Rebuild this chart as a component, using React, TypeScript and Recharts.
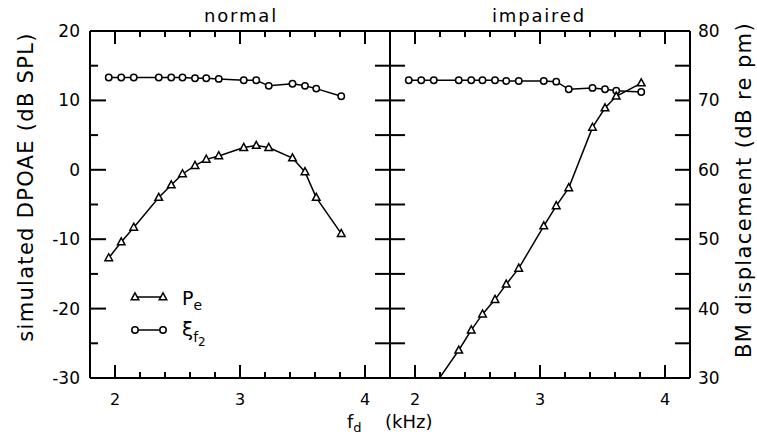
import React from 'react';
import { LineChart, Line, XAxis, YAxis, Legend } from 'recharts';

// f_d values (kHz) shared by both panels
const freqKHz = [1.95, 2.05, 2.15, 2.35, 2.45, 2.54, 2.64, 2.73, 2.83, 3.03, 3.13, 3.23, 3.42, 3.52, 3.61, 3.81];
// normal panel
const normalPe = [-12.7, -10.4, -8.3, -4.0, -2.2, -0.6, 0.6, 1.5, 2.0, 3.2, 3.5, 3.2, 1.7, -0.3, -4.0, -9.2];
const normalXi = [73.3, 73.3, 73.3, 73.3, 73.3, 73.3, 73.2, 73.2, 73.1, 72.9, 72.9, 72.1, 72.4, 72.1, 71.7, 70.6];
// impaired panel
const impairedPe = [null, null, -31.2, -26.0, -23.1, -20.8, -18.7, -16.5, -14.2, -8.1, -5.2, -2.6, 6.1, 8.9, 10.6, 12.5];
const impairedXi = [72.9, 72.9, 72.9, 72.9, 72.9, 72.9, 72.9, 72.8, 72.8, 72.8, 72.7, 71.6, 71.8, 71.6, 71.4, 71.2];

const xTicks = [2, 2.2, 2.4, 2.6, 2.8, 3, 3.2, 3.4, 3.6, 3.8, 4];
const dpoaeTicks = [-30, -25, -20, -15, -10, -5, 0, 5, 10, 15, 20];
const bmTicks = [30, 35, 40, 45, 50, 55, 60, 65, 70, 75, 80];
const panelTitles = ['normal', 'impaired'];
const leftTitle = 'simulated DPOAE (dB SPL)';
const rightTitle = 'BM displacement (dB re pm)';

const FONT = '"DejaVu Sans", sans-serif';
const INK = '#000';

const normalData = freqKHz.map((f, i) => ({ f, pe: normalPe[i], xi: normalXi[i] }));
const impairedData = freqKHz.map((f, i) => ({ f, pe: impairedPe[i], xi: impairedXi[i] }));

const isMajor = (v: number, step: number) => Math.abs(v / step - Math.round(v / step)) < 1e-6;

const makeXTick = (side: 'top' | 'bottom', labels: boolean) => (props: any) => {
  const { x, y, payload } = props;
  const v = payload.value as number;
  const major = isMajor(v, 1);
  const len = major ? 13 : 6;
  const dir = side === 'bottom' ? -1 : 1;
  return (
    <g>
      <line x1={x} y1={y} x2={x} y2={y + dir * len} stroke={INK} strokeWidth={2} />
      {labels && major ? (
        <text x={x} y={y + 27} textAnchor="middle" fontSize={16} fontFamily={FONT} fill={INK}>
          {String(v)}
        </text>
      ) : null}
    </g>
  );
};

const makeYTick = (side: 'left' | 'right', labels: boolean, varied: boolean) => (props: any) => {
  const { x, y, payload } = props;
  const v = payload.value as number;
  const major = isMajor(v, 10);
  const len = varied ? (major ? 16 : 8) : 15;
  const dir = side === 'left' ? 1 : -1;
  return (
    <g>
      <line x1={x} y1={y} x2={x + dir * len} y2={y} stroke={INK} strokeWidth={2} />
      {labels && major ? (
        <text
          x={side === 'left' ? x - 10 : x + 8}
          y={y + 6}
          textAnchor={side === 'left' ? 'end' : 'start'}
          fontSize={17}
          fontFamily={FONT}
          fill={INK}
        >
          {String(v)}
        </text>
      ) : null}
    </g>
  );
};

const triPath = (cx: number, cy: number) => {
  const s = 3.8;
  return `M${cx},${cy - 4.2} L${cx + s},${cy + 2.8} L${cx - s},${cy + 2.8} Z`;
};

const TriangleDot = (props: any) => {
  const { cx, cy, value, index } = props;
  if (cx == null || cy == null || value == null) return <g key={`t${index}`} />;
  return <path key={`t${index}`} d={triPath(cx, cy)} fill="#fff" stroke={INK} strokeWidth={1.5} />;
};

const CircleDot = (props: any) => {
  const { cx, cy, value, index } = props;
  if (cx == null || cy == null || value == null) return <g key={`c${index}`} />;
  return <circle key={`c${index}`} cx={cx} cy={cy} r={3.2} fill="#fff" stroke={INK} strokeWidth={1.5} />;
};

const LegendContent = () => (
  <svg width={110} height={75} style={{ display: 'block', overflow: 'visible' }}>
    <line x1={15} y1={17} x2={43} y2={17} stroke={INK} strokeWidth={1.5} />
    <path d={triPath(15, 17)} fill="#fff" stroke={INK} strokeWidth={1.5} />
    <path d={triPath(43, 17)} fill="#fff" stroke={INK} strokeWidth={1.5} />
    <text x={62} y={25} fontSize={19} fontFamily={FONT} fill={INK}>
      P<tspan dy={5} fontSize={14}>e</tspan>
    </text>
    <line x1={15} y1={50} x2={43} y2={50} stroke={INK} strokeWidth={1.5} />
    <circle cx={15} cy={50} r={3.2} fill="#fff" stroke={INK} strokeWidth={1.5} />
    <circle cx={43} cy={50} r={3.2} fill="#fff" stroke={INK} strokeWidth={1.5} />
    <text x={62} y={56} fontSize={20} fontFamily={FONT} fill={INK}>
      ξ<tspan dy={6} fontSize={14}>f</tspan><tspan dy={4} fontSize={12}>2</tspan>
    </text>
  </svg>
);

const axisLine = { stroke: INK, strokeWidth: 2 };

function Panel(props: { data: any[]; left: number; width: number; isLeft: boolean; legend?: boolean }) {
  const { data, left, width, isLeft, legend } = props;
  return (
    <div style={{ position: 'absolute', left, top: 0 }}>
      <LineChart width={width} height={441} data={data} margin={{ top: 21, right: 0, bottom: 23, left: 0 }}>
        <XAxis
          xAxisId="b"
          dataKey="f"
          type="number"
          orientation="bottom"
          domain={[1.8, 4.2]}
          ticks={xTicks}
          interval={0}
          allowDataOverflow
          height={40}
          tickLine={false}
          tickSize={0}
          tickMargin={0}
          axisLine={axisLine}
          tick={makeXTick('bottom', true)}
        />
        <XAxis
          xAxisId="t"
          dataKey="f"
          type="number"
          orientation="top"
          domain={[1.8, 4.2]}
          ticks={xTicks}
          interval={0}
          allowDataOverflow
          height={10}
          tickLine={false}
          tickSize={0}
          tickMargin={0}
          axisLine={axisLine}
          tick={makeXTick('top', false)}
        />
        <YAxis
          yAxisId="pe"
          type="number"
          orientation="left"
          domain={[-30, 20]}
          ticks={dpoaeTicks}
          interval={0}
          allowDataOverflow
          width={isLeft ? 90 : 10}
          tickLine={false}
          tickSize={0}
          tickMargin={0}
          axisLine={axisLine}
          tick={makeYTick('left', isLeft, isLeft)}
        />
        <YAxis
          yAxisId="xi"
          type="number"
          orientation="right"
          domain={[30, 80]}
          ticks={bmTicks}
          interval={0}
          allowDataOverflow
          width={isLeft ? 10 : 67}
          tickLine={false}
          tickSize={0}
          tickMargin={0}
          axisLine={axisLine}
          tick={makeYTick('right', !isLeft, false)}
        />
        <Line
          xAxisId="b"
          yAxisId="xi"
          type="linear"
          dataKey="xi"
          stroke={INK}
          strokeWidth={1.5}
          dot={CircleDot}
          activeDot={false}
          isAnimationActive={false}
        />
        <Line
          xAxisId="b"
          yAxisId="pe"
          type="linear"
          dataKey="pe"
          stroke={INK}
          strokeWidth={1.5}
          dot={TriangleDot}
          activeDot={false}
          connectNulls={false}
          isAnimationActive={false}
        />
        {legend ? (
          <Legend
            layout="vertical"
            align="center"
            verticalAlign="middle"
            width={110}
            height={75}
            wrapperStyle={{ left: 120, top: 280, width: 110, height: 75 }}
            content={LegendContent}
          />
        ) : null}
      </LineChart>
    </div>
  );
}

export default function App() {
  return (
    <div style={{ position: 'absolute', left: 0, top: 0, width: 757, height: 441, background: '#fff', fontFamily: FONT }}>
      <Panel data={normalData} left={0} width={400} isLeft legend />
      <Panel data={impairedData} left={380} width={377} isLeft={false} />
      <svg width={757} height={441} style={{ position: 'absolute', left: 0, top: 0, pointerEvents: 'none' }}>
        <text x={241} y={22} textAnchor="middle" fontSize={18} letterSpacing={1.8} fontFamily={FONT} fill={INK}>
          {panelTitles[0]}
        </text>
        <text x={539} y={22} textAnchor="middle" fontSize={18} letterSpacing={1.8} fontFamily={FONT} fill={INK}>
          {panelTitles[1]}
        </text>
        <text
          x={33}
          y={187}
          transform="rotate(-90 33 187)"
          textAnchor="middle"
          fontSize={21}
          letterSpacing={1.3}
          fontFamily={FONT}
          fill={INK}
        >
          {leftTitle}
        </text>
        <text
          x={751}
          y={190}
          transform="rotate(-90 751 190)"
          textAnchor="middle"
          fontSize={21}
          letterSpacing={1.4}
          fontFamily={FONT}
          fill={INK}
        >
          {rightTitle}
        </text>
        <text x={347} y={428} fontSize={18} fontFamily={FONT} fill={INK}>
          f<tspan dy={4} fontSize={13}>d</tspan>
          <tspan x={385} y={428}>(kHz)</tspan>
        </text>
      </svg>
    </div>
  );
}
